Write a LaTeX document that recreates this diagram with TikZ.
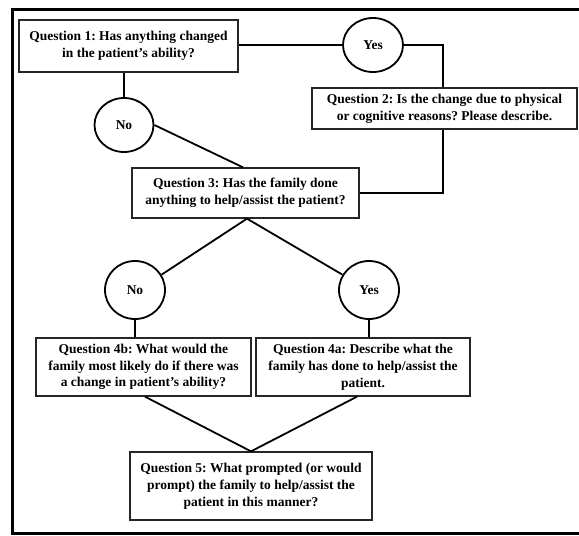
\documentclass[tikz,border=0pt]{standalone}
\usepackage{fontspec}
\setmainfont{Liberation Serif}
\usetikzlibrary{shapes.geometric,calc}
\frenchspacing
\begin{document}
\begin{tikzpicture}[x=1pt,y=-1pt,
  qbox/.style={draw=black!85, line width=1.3pt, fill=white, align=center, inner sep=2pt,
    font=\fontsize{13.5}{16.8}\selectfont\bfseries},
  ans/.style={draw=black, line width=1.8pt, ellipse, inner sep=0pt, fill=white,
    font=\fontsize{13.5}{16.8}\selectfont\bfseries},
  conn/.style={draw=black, line width=1.8pt}]
\useasboundingbox (0,0) rectangle (579,536);
\draw[line width=3pt] (12,9) rectangle (600,533);
% nodes
\node[qbox, minimum width=219pt, minimum height=52pt] (q1) at (128.5,46) {Question 1: Has anything changed\\in the patient's ability?};
\node[qbox, minimum width=265pt, minimum height=41pt] (q2) at (444.5,108.5) {Question 2: Is the change due to physical\\or cognitive reasons? Please describe.};
\node[qbox, minimum width=227pt, minimum height=50pt] (q3) at (245.5,193) {Question 3: Has the family done\\anything to help/assist the patient?};
\node[qbox, minimum width=215pt, minimum height=58pt] (q4b) at (143.5,367) {Question 4b: What would the\\family most likely do if there was\\a change in patient's ability?};
\node[qbox, minimum width=214pt, minimum height=58pt] (q4a) at (363,367) {Question 4a: Describe what the\\family has done to help/assist the\\patient.};
\node[qbox, minimum width=242pt, minimum height=68pt] (q5) at (251,486) {Question 5: What prompted (or would\\prompt) the family to help/assist the\\patient in this manner?};
\node[ans, minimum width=59pt, minimum height=54pt] (no1) at (124,125) {No};
\node[ans, minimum width=60pt, minimum height=54pt] (yes1) at (373,45) {Yes};
\node[ans, minimum width=60pt, minimum height=58pt] (no2) at (135,290) {No};
\node[ans, minimum width=60pt, minimum height=58pt] (yes2) at (369,290) {Yes};
% connectors
\draw[conn] (no1.north) -- (no1.north |- q1.south);
\draw[conn] (no1.east) -- ([xshift=-2.5pt]q3.north);
\draw[conn] (q1.east |- yes1.west) -- (yes1.west);
\draw[conn] (yes1.east) -| ([xshift=-1.5pt]q2.north);
\draw[conn] ([xshift=-1.5pt]q2.south) |- (q3.east);
\draw[conn] ([xshift=1.5pt]q3.south) -- (no2.30);
\draw[conn] ([xshift=1.5pt]q3.south) -- (yes2.150);
\draw[conn] (no2.south) -- (no2.south |- q4b.north);
\draw[conn] (yes2.south) -- (yes2.south |- q4a.north);
\draw[conn] ([xshift=1.5pt]q4b.south) -- (q5.north);
\draw[conn] ([xshift=-6pt]q4a.south) -- (q5.north);
\end{tikzpicture}
\end{document}
